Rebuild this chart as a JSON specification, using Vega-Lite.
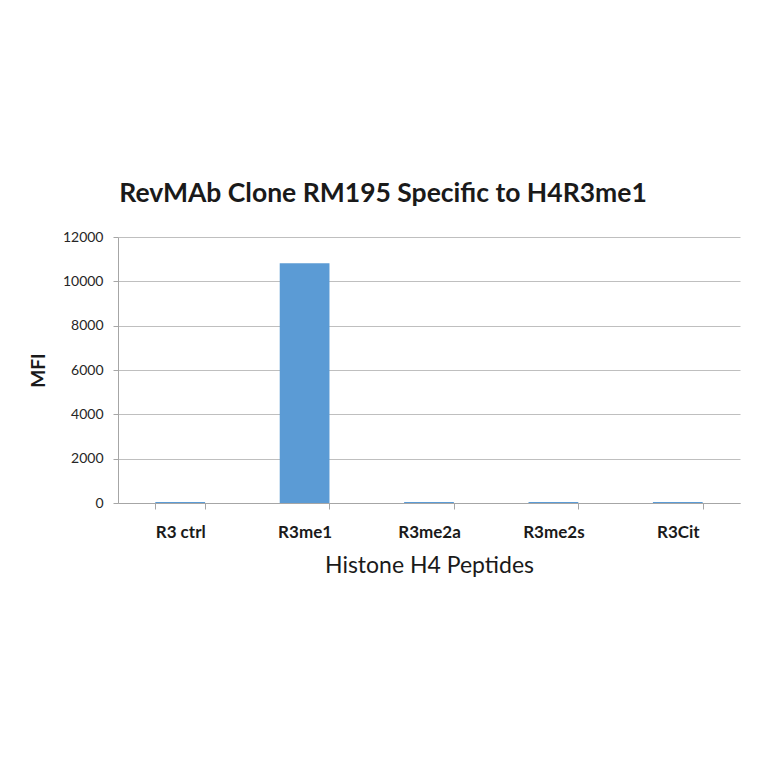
{
  "$schema": "https://vega.github.io/schema/vega-lite/v6.json",
  "autosize": "none",
  "width": 622,
  "height": 266,
  "padding": {"left": 118, "top": 237, "right": 24, "bottom": 261},
  "background": "white",
  "title": {
    "text": "RevMAb Clone RM195 Specific to H4R3me1",
    "font": "Lato",
    "fontSize": 26.5,
    "fontWeight": "bold",
    "color": "#1a1a1a",
    "anchor": "middle",
    "dx": -46,
    "offset": 23
  },
  "data": {
    "values": [
      {"peptide": "R3 ctrl", "MFI": 40},
      {"peptide": "R3me1", "MFI": 10820},
      {"peptide": "R3me2a", "MFI": 40},
      {"peptide": "R3me2s", "MFI": 40},
      {"peptide": "R3Cit", "MFI": 40}
    ]
  },
  "mark": {"type": "bar", "color": "#5b9bd5"},
  "encoding": {
    "x": {
      "field": "peptide",
      "type": "nominal",
      "sort": null,
      "scale": {"paddingInner": 0.6, "paddingOuter": 0.3},
      "title": "Histone H4 Peptides",
      "axis": {
        "labelAngle": 0,
        "labelFont": "Lato",
        "labelFontSize": 17,
        "labelFontWeight": "bold",
        "labelColor": "#1a1a1a",
        "labelPadding": 15,
        "tickBand": "extent",
        "tickSize": 6,
        "tickColor": "#a6a6a6",
        "domainColor": "#a6a6a6",
        "titleFont": "Lato",
        "titleFontSize": 23,
        "titleFontWeight": "normal",
        "titleColor": "#1a1a1a",
        "titlePadding": 14
      }
    },
    "y": {
      "field": "MFI",
      "type": "quantitative",
      "scale": {"domain": [0, 12000]},
      "title": "MFI",
      "axis": {
        "values": [0, 2000, 4000, 6000, 8000, 10000, 12000],
        "format": "d",
        "labelFont": "Lato",
        "labelFontSize": 14,
        "labelColor": "#262626",
        "labelPadding": 10,
        "tickSize": 5,
        "tickColor": "#a6a6a6",
        "domainColor": "#a6a6a6",
        "gridColor": "#bfbfbf",
        "titleFont": "Lato",
        "titleFontSize": 19,
        "titleFontWeight": "bold",
        "titleColor": "#1a1a1a",
        "titlePadding": 14
      }
    }
  },
  "config": {"view": {"stroke": null}}
}
